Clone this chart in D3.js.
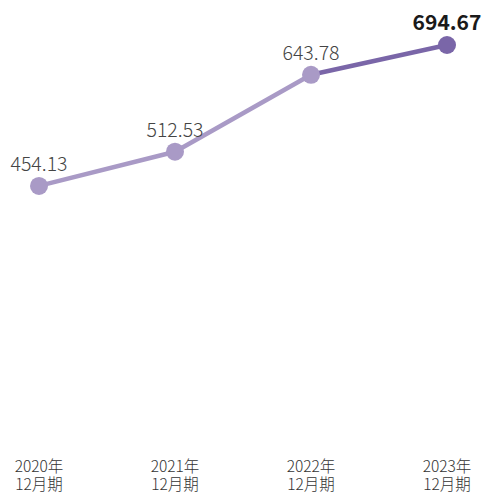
<!DOCTYPE html>
<html>
<head>
<meta charset="utf-8">
<script src="https://cdn.jsdelivr.net/npm/d3@7"></script>
<style>
  body { margin: 0; background: #fff; }
  text { font-family: "Noto Sans CJK JP", "Noto Sans", sans-serif; }
</style>
</head>
<body>
<div id="chart"></div>
<script>
var years = ["2020年", "2021年", "2022年", "2023年"];
var periods = ["12月期", "12月期", "12月期", "12月期"];
var values = [454.13, 512.53, 643.78, 694.67];

var width = 485,
    height = 493;

var data = values.map(function(v, i) { return { year: years[i], period: periods[i], value: v }; });

var x = d3.scalePoint()
    .domain(years)
    .range([39, 447]);

var y = d3.scaleLinear()
    .domain([0, d3.max(values)])
    .range([452, 45]);

var svg = d3.select("#chart")
    .append("svg")
    .attr("width", width)
    .attr("height", height);

var light = "#a99ac6",
    dark = "#7a66a8";

// segments, last one darker
svg.selectAll("line.seg")
    .data(data.slice(1))
    .enter().append("line")
    .attr("class", "seg")
    .attr("x1", function(d, i) { return x(data[i].year); })
    .attr("y1", function(d, i) { return y(data[i].value); })
    .attr("x2", function(d) { return x(d.year); })
    .attr("y2", function(d) { return y(d.value); })
    .attr("stroke", function(d, i) { return i == data.length - 2 ? dark : light; })
    .attr("stroke-width", 4.5)
    .attr("stroke-linecap", "round");

svg.selectAll("circle")
    .data(data)
    .enter().append("circle")
    .attr("cx", function(d) { return x(d.year); })
    .attr("cy", function(d) { return y(d.value); })
    .attr("r", 9)
    .attr("fill", function(d, i) { return i == data.length - 1 ? dark : light; });

svg.selectAll("text.val")
    .data(data)
    .enter().append("text")
    .attr("class", "val")
    .attr("x", function(d) { return x(d.year); })
    .attr("y", function(d) { return y(d.value) - 15; })
    .attr("text-anchor", "middle")
    .attr("font-size", function(d, i) { return i == data.length - 1 ? 21 : 19.5; })
    .attr("font-weight", function(d, i) { return i == data.length - 1 ? 700 : 300; })
    .attr("fill", function(d, i) { return i == data.length - 1 ? "#1a1a1a" : "#444"; })
    .text(function(d) { return d.value.toFixed(2); });

var ticks = svg.selectAll("g.tick")
    .data(data)
    .enter().append("g")
    .attr("class", "tick")
    .attr("transform", function(d) { return "translate(" + x(d.year) + ",0)"; });

ticks.append("text")
    .attr("y", 472)
    .attr("text-anchor", "middle")
    .attr("font-size", 15.5)
    .attr("font-weight", 300)
    .attr("fill", "#333")
    .text(function(d) { return d.year; });

ticks.append("text")
    .attr("y", 490)
    .attr("text-anchor", "middle")
    .attr("font-size", 15.5)
    .attr("font-weight", 300)
    .attr("fill", "#333")
    .text(function(d) { return d.period; });
</script>
</body>
</html>
